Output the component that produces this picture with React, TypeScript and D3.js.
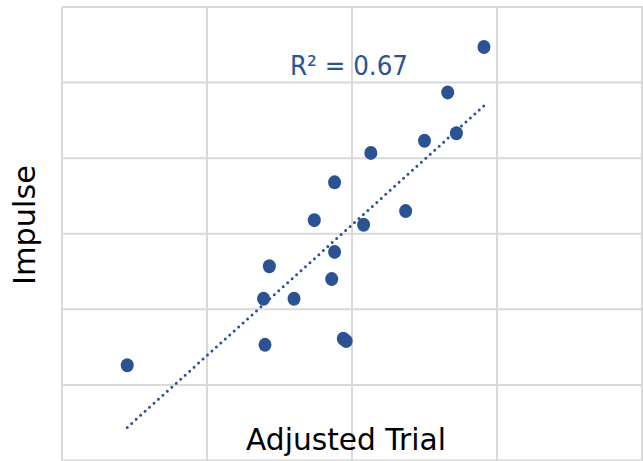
import React from "react";
import * as d3 from "d3";

const xValues = [2.91, 2.66, 2.72, 2.5, 2.13, 1.88, 2.37, 1.74, 2.08, 1.88, 1.43, 1.86, 1.39, 1.6, 1.4, 1.94, 1.96, 0.45];
const yValues = [5.47, 4.87, 4.33, 4.23, 4.07, 3.68, 3.3, 3.18, 3.12, 2.76, 2.57, 2.4, 2.14, 2.14, 1.53, 1.61, 1.58, 1.26];
const xTicks = [0, 1, 2, 3, 4];
const yTicks = [0, 1, 2, 3, 4, 5, 6];
const xTitle = "Adjusted Trial";
const yTitle = "Impulse";
const r2Label = "R² = 0.67";

const W = 643;
const H = 461;
const BLUE = "#2B5393";
const GRID = "#D9D9D9";
const FONT = "'DejaVu Sans', Lato, sans-serif";

export default function App() {
  const x = d3.scaleLinear().domain([0, 4]).range([62, 642]);
  const y = d3.scaleLinear().domain([0, 6]).range([460.5, 7]);

  const mx = d3.mean(xValues)!;
  const my = d3.mean(yValues)!;
  let sxy = 0, sxx = 0;
  xValues.forEach((v, i) => {
    sxy += (v - mx) * (yValues[i] - my);
    sxx += (v - mx) * (v - mx);
  });
  const slope = sxy / sxx;
  const icpt = my - slope * mx;
  const x0 = d3.min(xValues)!;
  const x1 = d3.max(xValues)!;
  const line = d3.line<[number, number]>().x((d) => x(d[0])).y((d) => y(d[1]));
  const trend = line([
    [x0, icpt + slope * x0],
    [x1, icpt + slope * x1],
  ]);

  return (
    <svg width={W} height={H} style={{ position: "absolute", left: 0, top: 0, background: "#fff" }}>
      <rect width={W} height={H} fill="#fff" />
      {xTicks.map((t) => (
        <line key={"vx" + t} x1={x(t)} x2={x(t)} y1={y(6)} y2={H} stroke={GRID} strokeWidth={2} />
      ))}
      {yTicks.map((t) => (
        <line key={"hy" + t} x1={x(0)} x2={W} y1={y(t)} y2={y(t)} stroke={GRID} strokeWidth={2} />
      ))}
      <text x={246} y={450} fontFamily={FONT} fontSize={30} fill="#000" textLength={200} lengthAdjust="spacingAndGlyphs">
        {xTitle}
      </text>
      <text
        transform={`translate(35,285) rotate(-90)`}
        fontFamily={FONT}
        fontSize={30}
        fill="#000"
        textLength={120}
        lengthAdjust="spacingAndGlyphs"
      >
        {yTitle}
      </text>
      <path d={trend || ""} fill="none" stroke={BLUE} strokeWidth={3} strokeDasharray="0 6" strokeLinecap="round" />
      {xValues.map((v, i) => (
        <ellipse key={i} cx={x(v)} cy={y(yValues[i])} rx={6.5} ry={7} fill={BLUE} />
      ))}
      <text x={290} y={75} fontFamily={FONT} fontSize={27} fill={BLUE} textLength={118} lengthAdjust="spacingAndGlyphs">
        {r2Label}
      </text>
    </svg>
  );
}
